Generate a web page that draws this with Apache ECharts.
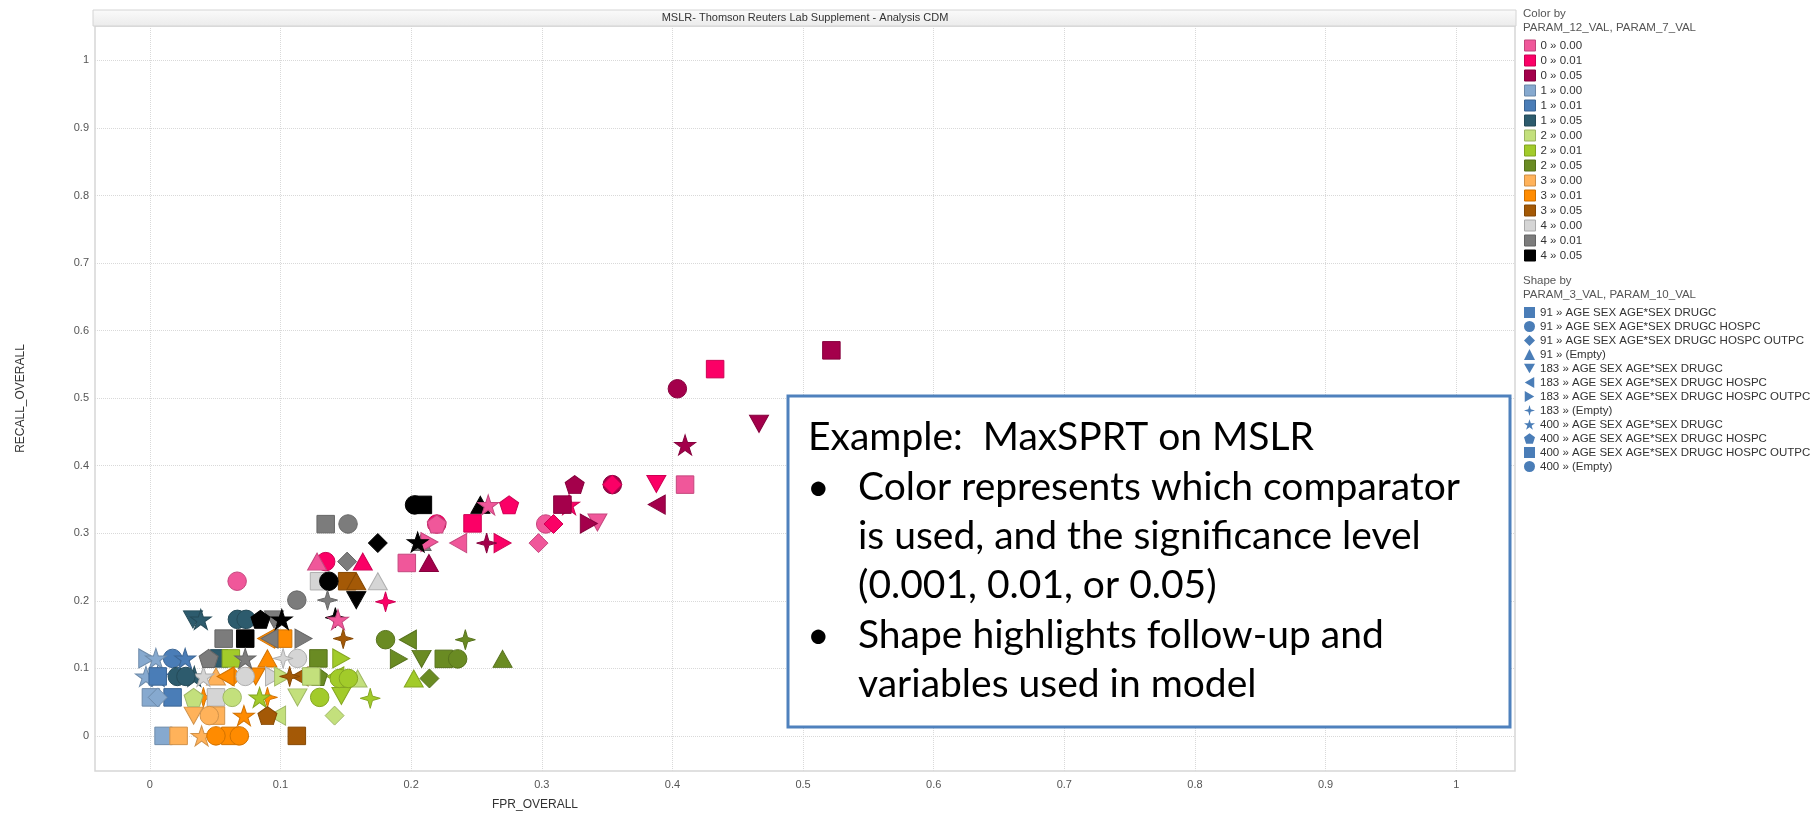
<!DOCTYPE html>
<html><head><meta charset="utf-8">
<script src="https://cdn.jsdelivr.net/npm/echarts@6/dist/echarts.min.js"></script>
<style>html,body{margin:0;padding:0;background:#fff}#c{width:1814px;height:815px}</style>
</head><body><div id="c"></div>
<script>
// ---------- texts ----------
const chartTitle = 'MSLR- Thomson Reuters Lab Supplement - Analysis CDM';
const xAxisTitle = 'FPR_OVERALL';
const yAxisTitle = 'RECALL_OVERALL';
const xTicks = [0, 0.1, 0.2, 0.3, 0.4, 0.5, 0.6, 0.7, 0.8, 0.9, 1];
const yTicks = [0, 0.1, 0.2, 0.3, 0.4, 0.5, 0.6, 0.7, 0.8, 0.9, 1];
const colorLegendTitle = ['Color by', 'PARAM_12_VAL, PARAM_7_VAL'];
const colorLabels = ['0 \u00bb 0.00','0 \u00bb 0.01','0 \u00bb 0.05','1 \u00bb 0.00','1 \u00bb 0.01','1 \u00bb 0.05',
  '2 \u00bb 0.00','2 \u00bb 0.01','2 \u00bb 0.05','3 \u00bb 0.00','3 \u00bb 0.01','3 \u00bb 0.05','4 \u00bb 0.00','4 \u00bb 0.01','4 \u00bb 0.05'];
const shapeLegendTitle = ['Shape by', 'PARAM_3_VAL, PARAM_10_VAL'];
const shapeLabels = [
  '91 \u00bb AGE SEX AGE*SEX DRUGC',
  '91 \u00bb AGE SEX AGE*SEX DRUGC HOSPC',
  '91 \u00bb AGE SEX AGE*SEX DRUGC HOSPC OUTPC',
  '91 \u00bb (Empty)',
  '183 \u00bb AGE SEX AGE*SEX DRUGC',
  '183 \u00bb AGE SEX AGE*SEX DRUGC HOSPC',
  '183 \u00bb AGE SEX AGE*SEX DRUGC HOSPC OUTPC',
  '183 \u00bb (Empty)',
  '400 \u00bb AGE SEX AGE*SEX DRUGC',
  '400 \u00bb AGE SEX AGE*SEX DRUGC HOSPC',
  '400 \u00bb AGE SEX AGE*SEX DRUGC HOSPC OUTPC',
  '400 \u00bb (Empty)'
];
const noteTitle = 'Example:  MaxSPRT on MSLR';
const noteBullets = [
  ['Color represents which comparator', 'is used, and the significance level', '(0.001, 0.01, or 0.05)'],
  ['Shape highlights follow-up and', 'variables used in model']
];

// ---------- data: [FPR_OVERALL, RECALL_OVERALL, color index into colorLabels] ----------
const squares91 = [
  [0.4097,0.372,0],[0.247,0.3146,1],[0.1967,0.256,0],[0.1346,0.3135,13],[0.1295,0.229,12],[0.151,0.229,11],
  [0.0565,0.144,13],[0.073,0.144,14],[0.102,0.144,10],[0.053,0.1147,5],[0.062,0.1147,7],[0.129,0.1147,8],
  [0.0008,0.057,3],[0.0174,0.057,4]
];
const circles91 = [
  [0.354,0.372,2],[0.303,0.3137,0],[0.2196,0.3137,1],[0.1517,0.3137,13],[0.1346,0.258,1],[0.137,0.229,14],
  [0.0668,0.229,0],[0.1125,0.201,13],[0.067,0.1725,5],[0.0737,0.1725,5],[0.0174,0.1147,4],[0.113,0.1147,12],
  [0.1804,0.1424,8],[0.021,0.088,5]
];
const diamonds91 = [
  [0.309,0.3137,1],[0.354,0.372,1],[0.1745,0.2855,14],[0.2975,0.2854,0],[0.151,0.258,13],[0.214,0.085,8],
  [0.006,0.057,3],[0.1414,0.030,6],[0.0634,0.088,10]
];
const triangles91 = [
  [0.253,0.342,14],[0.208,0.287,13],[0.128,0.258,0],[0.163,0.258,1],[0.2136,0.256,2],[0.158,0.229,11],
  [0.1745,0.229,12],[0.27,0.114,8],[0.159,0.085,6],[0.202,0.085,7],[0.090,0.1147,10],[0.0506,0.088,9]
];
const downTriangles183 = [
  [0.4663,0.462,2],[0.3877,0.373,1],[0.3426,0.316,0],[0.158,0.201,14],[0.095,0.1725,13],[0.033,0.1725,5],
  [0.208,0.114,8],[0.081,0.088,10],[0.113,0.057,6],[0.1466,0.059,7],[0.0335,0.030,9]
];
const leftTriangles183 = [
  [0.388,0.3424,2],[0.236,0.2854,0],[0.1975,0.1424,8],[0.089,0.144,10],[0.0916,0.144,13],[0.058,0.088,10],
  [0.1146,0.088,11],[0.142,0.088,7],[0.0974,0.030,6]
];
const rightTriangles183 = [
  [0.336,0.3143,2],[0.27,0.2854,1],[0.214,0.287,0],[0.1176,0.144,13],[0.1906,0.114,8],[0.1465,0.1147,7],
  [-0.002,0.1147,3],[0.095,0.088,12],[0.102,0.088,6]
];
const sparkles183 = [
  [0.2578,0.2854,2],[0.1804,0.1985,1],[0.136,0.201,13],[0.142,0.175,14],[0.148,0.144,11],[0.2415,0.1424,8],
  [0.102,0.1147,12],[0.107,0.088,11],[0.1687,0.0556,7],[0.090,0.057,10],[0.041,0.057,10]
];
const stars400 = [
  [0.4097,0.4307,2],[0.3209,0.3424,1],[0.259,0.342,0],[0.205,0.287,14],[0.144,0.172,0],[0.101,0.1725,14],
  [0.039,0.1725,5],[0.0046,0.1147,3],[0.027,0.1147,4],[0.073,0.1147,13],[0.006,0.088,4],[-0.003,0.088,3],
  [0.034,0.088,5],[0.041,0.088,12],[0.084,0.057,7],[0.072,0.030,10],[0.0396,0.0,9]
];
const pentagons400 = [
  [0.3252,0.372,2],[0.275,0.342,1],[0.2196,0.3137,0],[0.0847,0.1725,14],[0.045,0.1147,13],[0.1286,0.088,8],
  [0.0335,0.057,6],[0.090,0.030,11]
];
const squares400 = [
  [0.5217,0.5708,2],[0.4327,0.543,1],[0.3158,0.3424,2],[0.209,0.342,14],[0.225,0.114,8],[0.006,0.088,4],
  [0.1235,0.088,6],[0.0506,0.057,12],[0.0506,0.030,9],[0.0105,0.0,3],[0.022,0.0,9],[0.0616,0.0,10],[0.1125,0.0,11]
];
const circles400 = [
  [0.4038,0.5139,2],[0.2026,0.342,14],[0.2356,0.114,8],[0.0276,0.088,5],[0.073,0.088,12],[0.145,0.085,7],
  [0.152,0.085,7],[0.063,0.057,6],[0.130,0.057,7],[0.0455,0.030,9],[0.0506,0.0,10],[0.0685,0.0,10]
];

// ---------- styles ----------
const palette = ['#f0579a','#fb0066','#a4004b','#86a9cf','#4a7db7','#2d5b6d',
  '#c3e07c','#a2cb2a','#6a8b23','#ffb25a','#ff8b00','#a45906','#d5d5d5','#7c7c7c','#000000'];
const legendBlue = '#4a7db7';
const FONT = "'Liberation Sans',Arial,sans-serif";
const SYM = {
  down: 'path://M0,0L100,0L50,86.6Z',
  left: 'path://M86.6,0L86.6,100L0,50Z',
  right: 'path://M0,0L0,100L86.6,50Z',
  sparkle: 'path://M50,0L61,39L100,50L61,61L50,100L39,61L0,50L39,39Z',
  star: 'path://M50,0L61.23,34.55L97.55,34.55L68.16,55.9L79.39,90.45L50,69.1L20.61,90.45L31.84,55.9L2.45,34.55L38.77,34.55Z',
  pent: 'path://M50,0L97.55,34.55L79.39,90.45L20.61,90.45L2.45,34.55Z'
};
function darker(hex, f) {
  const n = parseInt(hex.slice(1), 16);
  const r = Math.round(((n >> 16) & 255) * f), g = Math.round(((n >> 8) & 255) * f), b = Math.round((n & 255) * f);
  return 'rgb(' + r + ',' + g + ',' + b + ')';
}
const shapeDefs = [
  {data: squares91, symbol: 'rect', size: 17.5},
  {data: circles91, symbol: 'circle', size: 18.5},
  {data: diamonds91, symbol: 'diamond', size: 19},
  {data: triangles91, symbol: 'triangle', size: [19, 17]},
  {data: downTriangles183, symbol: SYM.down, size: [19, 17]},
  {data: leftTriangles183, symbol: SYM.left, size: [17, 19]},
  {data: rightTriangles183, symbol: SYM.right, size: [17, 19]},
  {data: sparkles183, symbol: SYM.sparkle, size: 20},
  {data: stars400, symbol: SYM.star, size: [21, 20]},
  {data: pentagons400, symbol: SYM.pent, size: [19, 18]},
  {data: squares400, symbol: 'rect', size: 17.5},
  {data: circles400, symbol: 'circle', size: 18.5}
];
const legendIcons = ['rect','circle','diamond','triangle',SYM.down,SYM.left,SYM.right,SYM.sparkle,SYM.star,SYM.pent,'rect','circle'];

const series = [];
shapeDefs.forEach((d, i) => {
  series.push({
    type: 'scatter', name: shapeLabels[i], symbol: d.symbol, symbolSize: d.size,
    itemStyle: {opacity: 1, color: legendBlue},
    data: d.data.map(p => ({value: [p[0], p[1]], itemStyle: {opacity: 1, color: palette[p[2]], borderColor: darker(palette[p[2]], 0.82), borderWidth: 1}})),
    z: 3
  });
});
colorLabels.forEach((n, i) => series.push({type: 'scatter', name: n, data: [], itemStyle: {opacity: 1, color: palette[i]}}));

const G = {left: 95, top: 26, width: 1420, height: 745};
const LFONT = '11.5px ' + FONT;
const graphic = [
  {type: 'rect', z: 1, shape: {x: G.left - 2, y: 10, width: G.width + 3, height: 16},
   style: {fill: new echarts.graphic.LinearGradient(0, 0, 0, 1, [{offset: 0, color: '#fbfbfb'}, {offset: 1, color: '#ebebeb'}]), stroke: '#d4d4d4', lineWidth: 1}},
  {type: 'text', z: 2, x: G.left + G.width / 2, y: 18, style: {text: chartTitle, fill: '#333', font: '11px ' + FONT, align: 'center', verticalAlign: 'middle'}},
  {type: 'text', x: 1523, y: 14, style: {text: colorLegendTitle[0], fill: '#555', font: LFONT, verticalAlign: 'middle'}},
  {type: 'text', x: 1523, y: 27.5, style: {text: colorLegendTitle[1], fill: '#555', font: LFONT, verticalAlign: 'middle'}},
  {type: 'text', x: 1523, y: 281, style: {text: shapeLegendTitle[0], fill: '#555', font: LFONT, verticalAlign: 'middle'}},
  {type: 'text', x: 1523, y: 294.5, style: {text: shapeLegendTitle[1], fill: '#555', font: LFONT, verticalAlign: 'middle'}},
  {type: 'rect', z: 50, shape: {x: 788, y: 396, width: 722, height: 331}, style: {fill: '#fff', stroke: '#4f81bd', lineWidth: 3}}
];
const NOTE_FONT = "39px Lato,'Noto Sans',sans-serif";
graphic.push({type: 'text', z: 51, x: 808, y: 437, style: {text: noteTitle, fill: '#000', font: NOTE_FONT, verticalAlign: 'middle'}});
let ly = 487;
noteBullets.forEach(lines => {
  graphic.push({type: 'text', z: 51, x: 807, y: ly, style: {text: '\u2022', fill: '#000', font: NOTE_FONT, verticalAlign: 'middle'}});
  lines.forEach(t => {
    graphic.push({type: 'text', z: 51, x: 858, y: ly, style: {text: t, fill: '#000', font: NOTE_FONT, verticalAlign: 'middle'}});
    ly += 49.4;
  });
});

const tickFmt = v => String(Math.round(v * 10) / 10);
const option = {
  animation: false,
  textStyle: {fontFamily: FONT},
  grid: Object.assign({show: true, borderColor: '#d6d6d6', borderWidth: 1.5, outerBoundsMode: 'none', containLabel: false}, G),
  xAxis: {
    type: 'value', min: -0.042, max: 1.045,
    axisLine: {show: false}, axisTick: {show: false, customValues: xTicks},
    axisLabel: {customValues: xTicks, formatter: tickFmt, color: '#555', fontSize: 11, margin: 8},
    splitLine: {show: true, lineStyle: {color: '#d9d9d9', type: 'dotted', width: 1}},
    name: xAxisTitle, nameLocation: 'middle', nameGap: 28,
    nameTextStyle: {color: '#333', fontSize: 12, padding: [0, 540, 0, 0]}
  },
  yAxis: {
    type: 'value', min: -0.052, max: 1.051,
    axisLine: {show: false}, axisTick: {show: false, customValues: yTicks},
    axisLabel: {customValues: yTicks, formatter: tickFmt, color: '#555', fontSize: 11, margin: 6},
    splitLine: {show: true, lineStyle: {color: '#d9d9d9', type: 'dotted', width: 1}},
    name: yAxisTitle, nameLocation: 'middle', nameGap: 68, nameRotate: 90,
    nameTextStyle: {color: '#333', fontSize: 12}
  },
  legend: [
    {orient: 'vertical', left: 1524, top: 39.5, padding: 0, itemWidth: 11, itemHeight: 11, itemGap: 3, selectedMode: false,
     textStyle: {fontSize: 11.5, color: '#333', lineHeight: 12, fontFamily: FONT},
     data: colorLabels.map((n, i) => ({name: n, icon: 'rect', itemStyle: {opacity: 1, color: palette[i], borderColor: darker(palette[i], 0.8), borderWidth: 1}}))},
    {orient: 'vertical', left: 1524, top: 306.5, padding: 0, itemWidth: 11, itemHeight: 11, itemGap: 2, selectedMode: false,
     textStyle: {fontSize: 11.5, color: '#333', lineHeight: 12, fontFamily: FONT},
     data: shapeLabels.map((n, i) => ({name: n, icon: legendIcons[i], itemStyle: {opacity: 1, color: legendBlue, borderWidth: 0}}))}
  ],
  graphic: graphic,
  series: series
};
const chart = echarts.init(document.getElementById('c'), null, {renderer: 'canvas'});
chart.setOption(option);
</script>
</body></html>
